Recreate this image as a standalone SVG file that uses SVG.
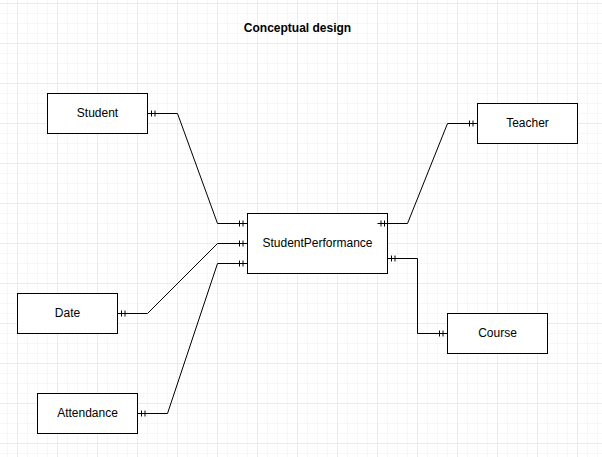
<svg xmlns="http://www.w3.org/2000/svg" width="602" height="457" viewBox="0 0 602 457">
<defs>
<pattern id="minor" x="7" y="3" width="10" height="10" patternUnits="userSpaceOnUse">
<path d="M0 0H10M0 0V10" fill="none" stroke="#f0f0f0" stroke-width="1"/>
</pattern>
<pattern id="major" x="17" y="3" width="40" height="40" patternUnits="userSpaceOnUse">
<path d="M0 0H40M0 0V40" fill="none" stroke="#e0e0e0" stroke-width="1"/>
</pattern>
</defs>
<style>
.box{fill:#ffffff;stroke:#000000;stroke-width:1}
.lbl{font-family:"Liberation Sans",Arial,sans-serif;font-size:12px;fill:#000000;text-anchor:middle;dominant-baseline:central}
.title{font-family:"Liberation Sans",Arial,sans-serif;font-size:12px;font-weight:bold;fill:#000000;text-anchor:middle;dominant-baseline:central}
.edge{fill:none;stroke:#000000;stroke-width:1}
</style>
<rect width="602" height="457" fill="#ffffff"/>
<rect width="602" height="457" fill="url(#minor)"/>
<rect width="602" height="457" fill="url(#major)"/>
<text class="title" x="297.5" y="27.5">Conceptual design</text>
<g id="student"><rect class="box" x="47.5" y="93.5" width="100" height="40"/><text class="lbl" x="97.5" y="113">Student</text></g>
<g id="teacher"><rect class="box" x="477.5" y="103.5" width="100" height="40"/><text class="lbl" x="527.5" y="123">Teacher</text></g>
<g id="studentperformance"><rect class="box" x="247.5" y="213.5" width="140" height="60"/><text class="lbl" x="317.5" y="243">StudentPerformance</text></g>
<g id="date"><rect class="box" x="17.5" y="293.5" width="100" height="40"/><text class="lbl" x="67.5" y="313">Date</text></g>
<g id="course"><rect class="box" x="447.5" y="313.5" width="100" height="40"/><text class="lbl" x="497.5" y="333">Course</text></g>
<g id="attendance"><rect class="box" x="37.5" y="393.5" width="100" height="40"/><text class="lbl" x="87.5" y="413">Attendance</text></g>
<g id="connectors" class="edge">
<path d="M147.5 113.5H177.5L217.5 223.5H247.5"/>
<path d="M151.5 110.5V116.5M155 110.5V116.5M239.5 220.5V226.5M243 220.5V226.5"/>
<path d="M117.5 313.5H147.5L217.5 243.5H247.5"/>
<path d="M121.5 310.5V316.5M125 310.5V316.5M239.5 240.5V246.5M243 240.5V246.5"/>
<path d="M137.5 413.5H167.5L217.5 263.5H247.5"/>
<path d="M141.5 410.5V416.5M145 410.5V416.5M239.5 260.5V266.5M243 260.5V266.5"/>
<path d="M377.5 223.5H407.5L447.5 123.5H477.5"/>
<path d="M381 220.5V226.5M384.5 220.5V226.5M469.5 120.5V126.5M473 120.5V126.5"/>
<path d="M387.5 258.5H417.5V333.5H447.5"/>
<path d="M391.5 255.5V261.5M395 255.5V261.5M439.5 330.5V336.5M443 330.5V336.5"/>
</g>
</svg>
